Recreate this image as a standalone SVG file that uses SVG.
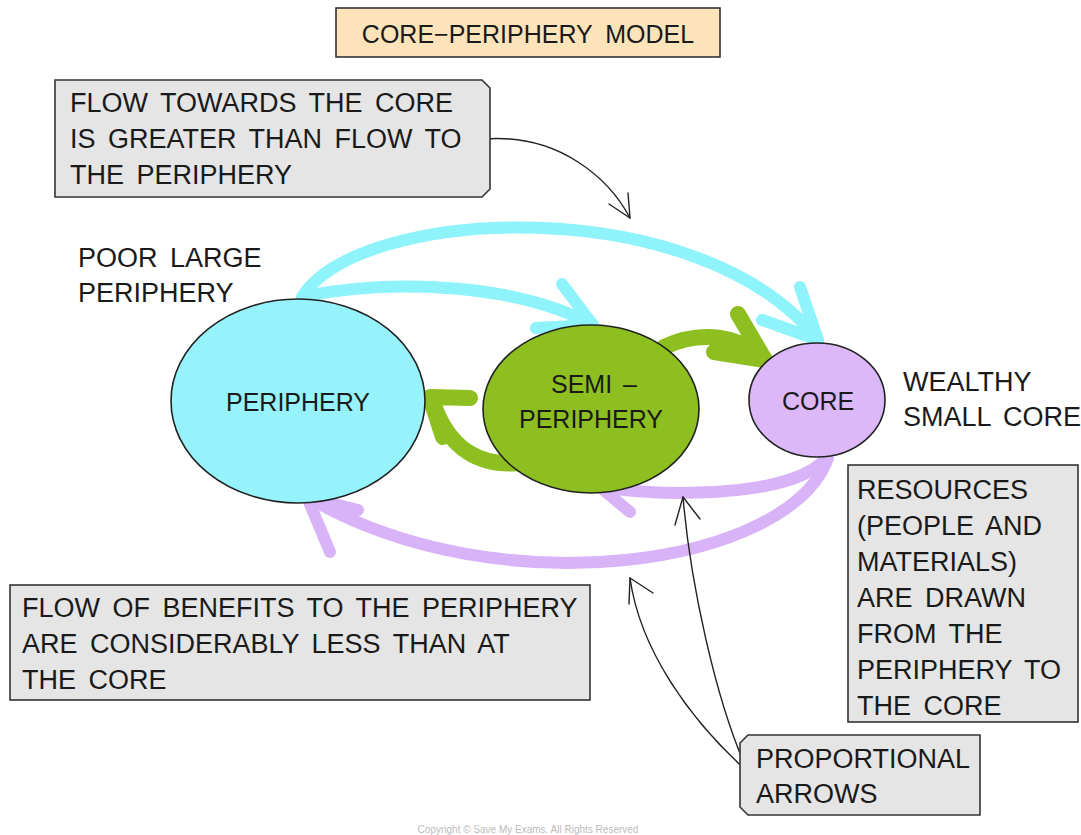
<svg xmlns="http://www.w3.org/2000/svg" width="1081" height="835" viewBox="0 0 1081 835">
<style>
text{font-family:"Liberation Sans",Arial,sans-serif;fill:#1a1a1a}
.t{font-size:27px;word-spacing:5px}
.box{fill:#e5e5e5;stroke:#333;stroke-width:1.6}
.cy{fill:none;stroke:#8ef3fb;stroke-width:12;stroke-linecap:round;stroke-linejoin:round}
.gr{fill:none;stroke:#8cbf1f;stroke-width:16;stroke-linecap:round;stroke-linejoin:round}
.pu{fill:none;stroke:#d9b3f7;stroke-width:12;stroke-linecap:round;stroke-linejoin:round}
.bk{fill:none;stroke:#222;stroke-width:1.4;stroke-linecap:round;stroke-linejoin:round}
.node{stroke:#222;stroke-width:1.6}
</style>
<rect width="1081" height="835" fill="#fff"/>
<g id="title">
<rect x="336" y="8" width="384" height="49" fill="#fde3ba" stroke="#333" stroke-width="1.6"/>
<text x="528" y="43" font-size="25" text-anchor="middle" word-spacing="6">CORE−PERIPHERY MODEL</text>
</g>
<g id="connectors">
<path class="cy" d="M302,297 C360,205 700,190 818,340"/>
<path class="cy" d="M800,287 L818,340 L762,320"/>
<path class="cy" d="M305,296 C400,278 520,285 593,325"/>
<path class="cy" d="M562,284 L593,325 L536,328"/>
<path class="gr" d="M664,347 C700,330 740,335 765,360"/>
<path class="gr" d="M738,314 L765,360 L714,352"/>
<path class="gr" d="M532,462 C478,470 448,448 432,400"/>
<path class="gr" d="M470,398 L430,397 L443,437"/>
<path class="pu" d="M826,458 C800,492 690,500 600,487"/>
<path class="pu" d="M642,470 L600,487 L630,512"/>
<path class="pu" d="M828,458 C790,565 500,610 307,497"/>
<path class="pu" d="M358,510 L307,497 L330,552"/>
<circle cx="481" cy="139" r="3" fill="#fff" stroke="#222" stroke-width="1.4"/>
<path class="bk" d="M484,139 C560,133 610,180 630,218"/>
<path class="bk" d="M609,204 L630,218 L628,193"/>
<circle cx="749" cy="772" r="3" fill="#222"/>
<path class="bk" d="M748,772 C690,720 640,650 630,578"/>
<path class="bk" d="M629,604 L630,578 L653,593"/>
<path class="bk" d="M748,772 C715,700 690,580 683,497"/>
<path class="bk" d="M675,525 L683,497 L700,519"/>
</g>
<g id="periphery">
<ellipse class="node" cx="298" cy="401" rx="127" ry="102" fill="#96f3fb"/>
<text x="298" y="411" font-size="25" text-anchor="middle">PERIPHERY</text>
</g>
<g id="semi-periphery">
<ellipse class="node" cx="591" cy="409" rx="108" ry="84" fill="#8cbf1f"/>
<text x="594" y="393" font-size="25" text-anchor="middle" word-spacing="4">SEMI –</text>
<text x="591" y="428" font-size="25" text-anchor="middle">PERIPHERY</text>
</g>
<g id="core">
<ellipse class="node" cx="817" cy="400" rx="68" ry="57" fill="#dcb8f8"/>
<text x="818" y="410" font-size="25" text-anchor="middle">CORE</text>
</g>
<g id="label-poor">
<text class="t" x="78" y="267">POOR LARGE</text>
<text class="t" x="78" y="302">PERIPHERY</text>
</g>
<g id="label-wealthy">
<text class="t" x="903" y="391">WEALTHY</text>
<text class="t" x="903" y="426">SMALL CORE</text>
</g>
<g id="note-flow">
<path class="box" d="M55,80 H482 L490,88 V189 L482,197 H55 Z"/>
<text class="t" x="70" y="112">FLOW TOWARDS THE CORE</text>
<text class="t" x="70" y="148">IS GREATER THAN FLOW TO</text>
<text class="t" x="70" y="184">THE PERIPHERY</text>
</g>
<g id="note-benefits">
<rect class="box" x="10" y="585" width="580" height="115"/>
<text class="t" x="22" y="617">FLOW OF BENEFITS TO THE PERIPHERY</text>
<text class="t" x="22" y="653">ARE CONSIDERABLY LESS THAN AT</text>
<text class="t" x="22" y="689">THE CORE</text>
</g>
<g id="note-resources">
<rect class="box" x="848" y="465" width="230" height="257"/>
<text class="t" x="857" y="499">RESOURCES</text>
<text class="t" x="857" y="535">(PEOPLE AND</text>
<text class="t" x="857" y="571">MATERIALS)</text>
<text class="t" x="857" y="607">ARE DRAWN</text>
<text class="t" x="857" y="643">FROM THE</text>
<text class="t" x="857" y="679">PERIPHERY TO</text>
<text class="t" x="857" y="715">THE CORE</text>
</g>
<g id="note-proportional">
<path class="box" d="M748,735 H980 V815 H748 L740,807 V743 Z"/>
<text class="t" x="756" y="768">PROPORTIONAL</text>
<text class="t" x="756" y="803">ARROWS</text>
</g>
<text x="528" y="833" font-size="10" style="fill:#bbb" text-anchor="middle">Copyright © Save My Exams. All Rights Reserved</text>
</svg>
